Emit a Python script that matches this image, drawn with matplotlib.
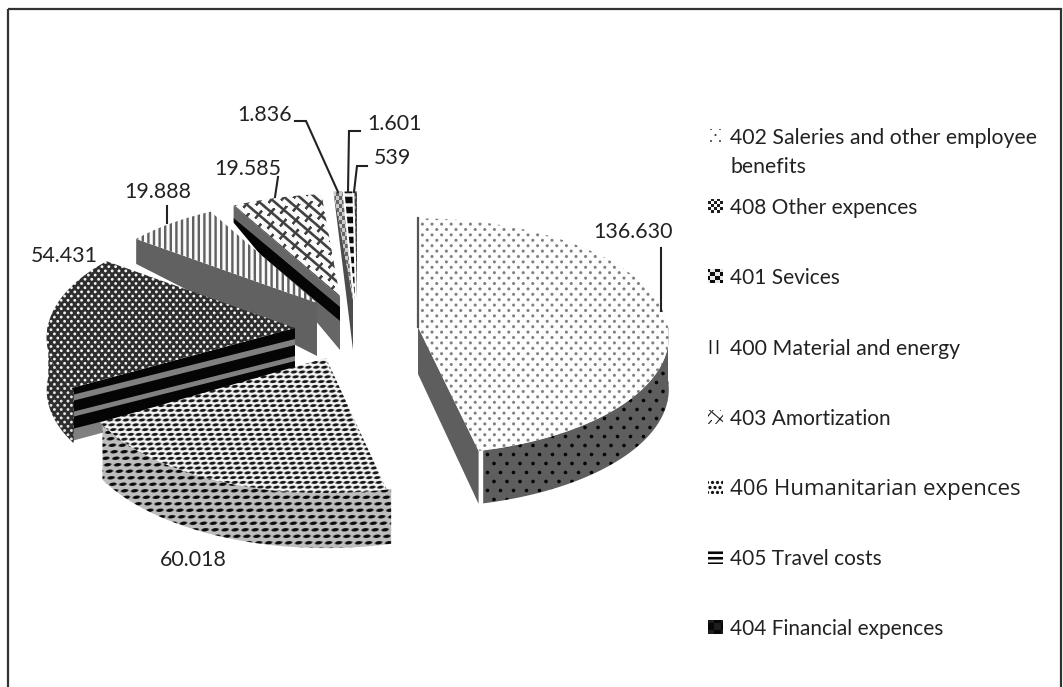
import numpy as np
import matplotlib
matplotlib.use('Agg')
import matplotlib.pyplot as plt
from matplotlib.path import Path
from matplotlib.patches import PathPatch, Rectangle

categories = ['402 Saleries and other employee\nbenefits', '408 Other expences', '401 Sevices',
              '400 Material and energy', '403 Amortization', '406 Humanitarian expences',
              '405 Travel costs', '404 Financial expences']
values = [136630, 60018, 54431, 19888, 19585, 1836, 1601, 539]

plt.rcParams['font.family'] = ['Lato', 'DejaVu Sans']
W, H = 1063, 687
X, Y = np.meshgrid(np.arange(W) + 0.5, np.arange(H) + 0.5)


def blend(mask, bg, fg):
    return bg + (fg - bg) * np.clip(mask, 0, 1)


def dots(sx, sy, rx, ry, bg, fg, tilt=0.0):
    row = np.floor(Y / sy)
    xs = X + tilt * Y + (row % 2) * sx / 2
    dx = (xs % sx) - sx / 2
    dy = (Y % sy) - sy / 2
    d = np.sqrt((dx / rx) ** 2 + (dy / ry) ** 2)
    return blend((1 - d) * min(rx, ry) + 0.5, bg, fg)


def vlines(period, width, bg, fg):
    d = np.abs((X % period) - period / 2)
    return blend(width / 2 - d + 0.5, bg, fg)


def hbars(period, width, bg, fg):
    d = np.abs((Y % period) - period / 2)
    return blend(width / 2 - d + 0.5, bg, fg)


def stripes(slope, x0, y0, bands):
    # bands are (offset below the edge, gray) pairs
    s = Y - y0 - slope * (X - x0)
    out = np.full(X.shape, bands[0][1], dtype=float)
    for off, g in bands[1:]:
        out = blend(s - off + 0.5, out, g)
    return out


def bricks(step, length, width, bg, fg):
    c, s = 0.76, 0.65
    u = X * c + Y * s
    v = -X * s + Y * c
    row = np.floor(v / step)
    du = np.abs(((u + (row % 2) * length / 2) % length) - length / 2)
    dv = np.abs((v % step) - step / 2)
    return blend(np.maximum(width / 2 - du, width / 2 - dv) + 0.5, bg, fg)


def checks(px, py, bg, fg):
    m = ((np.floor(X / px) + np.floor(Y / py)) % 2)
    return bg + (fg - bg) * m


fig = plt.figure(figsize=(W / 100, H / 100), dpi=100)
ax = fig.add_axes([0, 0, 1, 1])
zorder = [1]


def fill(points, texture):
    path = Path(np.vstack([points, points[:1]]), closed=True)
    patch = PathPatch(path, transform=ax.transData, fc='none', ec='none')
    ax.add_patch(patch)
    im = ax.imshow(texture, cmap='gray', vmin=0, vmax=1, extent=(0, W, H, 0),
                   aspect='auto', interpolation='bilinear', zorder=zorder[0])
    im.set_clip_path(patch)
    zorder[0] += 1


RX, RY, PERSP = 250, 118, 0.08


def rim(t, apex, k, ky):
    t = np.radians(t)
    s = (1 - PERSP * np.cos(t)) * k
    return np.column_stack([apex[0] + RX * np.sin(t) * s, apex[1] - RY * np.cos(t) * s * ky])


angles = np.cumsum([0] + values) / sum(values) * 360

# apex position, radius factors, rim depth, apex depth for each slice
apex = [(418, 327), (326, 358), (295, 328), (317, 303), (340, 297), (353, 300), (355, 300), (357, 300)]
radius = [1.0, 1.0, 0.99, 0.95, 0.95, 1.0, 1.0, 1.0]
radius_y = [1.0, 1.06, 1.0, 1.0, 1.0, 1.0, 1.0, 1.0]
rim_depth = [53, 55, 53, 25, 17, 0, 0, 0]
apex_depth = [47, 55, 53, 53, 53, 50, 50, 50]
# which radial wall shows: 0 start edge, 1 end edge, None no wall
wall_edge = [1, None, 0, 0, 0, 0, None, None]
# part of the outer wall that shows, in degrees
outer_part = [(90, 166), (166, 239.2), (239.2, 272), None, None, None, None, None]

w5_slope = (297 - 205) / (340 - 230)
w3_slope = (387 - 330) / (68 - 295)
tops = [dots(9.6, 5.4, 1.5, 1.5, 0.99, 0.5),
        dots(8, 4.8, 3.0, 1.5, 0.95, 0.1, tilt=0.5),
        dots(6.8, 4.2, 1.4, 1.4, 0.18, 0.95),
        vlines(5.6, 2.4, 0.98, 0.38),
        bricks(10, 16, 2.6, 0.98, 0.25),
        checks(3, 4, 0.4, 0.8),
        hbars(10, 3.5, 0.05, 0.95),
        dots(5, 5, 1.2, 1.2, 0.25, 0.55)]
walls = [np.full(X.shape, 0.37),
         np.full(X.shape, 0.6),
         stripes(w3_slope, 295, 328, [(0, 0.02), (11, 0.5), (17, 0.02), (28, 0.5), (33, 0.02), (45, 0.5)]),
         np.full(X.shape, 0.38),
         stripes(w5_slope, 340, 297, [(0, 0.4), (10, 0.02), (24, 0.4)]),
         np.full(X.shape, 0.3),
         np.full(X.shape, 0.3),
         np.full(X.shape, 0.3)]
sides = [dots(13, 9, 1.8, 1.8, 0.37, 0.02),
         dots(10, 6.5, 3.5, 1.7, 0.74, 0.05, tilt=0.5),
         dots(6.8, 4.2, 1.4, 1.4, 0.18, 0.9),
         None, None, None, None, None]

# far slices first so the near ones cover them
for i in [7, 6, 5, 4, 3, 2, 1, 0]:
    a = np.array(apex[i], dtype=float)
    t0, t1 = angles[i], angles[i + 1]
    if wall_edge[i] is not None:
        t = [t0, t1][wall_edge[i]]
        p = rim(t, a, radius[i], radius_y[i])[0]
        fill(np.array([a, p, p + [0, rim_depth[i]], a + [0, apex_depth[i]]]), walls[i])
    if outer_part[i] is not None:
        arc = rim(np.linspace(outer_part[i][0], outer_part[i][1], 80), a, radius[i], radius_y[i])
        fill(np.vstack([arc, (arc + [0, rim_depth[i]])[::-1]]), sides[i])
    arc = rim(np.linspace(t0, t1, 120), a, radius[i], radius_y[i])
    fill(np.vstack([a, arc]), tops[i])
    if i == 0:
        ax.plot([a[0], arc[0, 0]], [a[1], arc[0, 1]], color='#555555', lw=1.6, zorder=zorder[0])
        zorder[0] += 1

# data labels and leader lines
label_xy = [(633, 232), (193, 560), (64, 256), (158, 192), (248, 169), (265, 115), (395, 124), (393, 158)]
leaders = [[(661, 248), (661, 311)], None, None, [(167, 206), (167, 223)], [(278, 177), (275, 197)],
           [(295, 121), (306, 121), (338, 192)], [(360, 131), (349, 131), (348, 192)],
           [(367, 166), (357, 166), (354, 192)]]
for v, xy, line in zip(values, label_xy, leaders):
    ax.text(xy[0], xy[1], f'{v:,}'.replace(',', '.'), ha='center', va='center', fontsize=15.4, color='#222222', zorder=60)
    if line:
        ax.plot(*zip(*line), color='#222222', lw=1.5, zorder=60, solid_joinstyle='miter')

# legend, the 406 line is set wider than the others in the reference
legend_y = [136, 206, 276, 347, 417, 487, 557, 627]
legend_font = ['Lato', 'Lato', 'Lato', 'Lato', 'Lato', 'Open Sans', 'Lato', 'Lato']
legend_size = [15.3, 15.0, 15.0, 15.3, 15.0, 16.0, 15.0, 15.0]
key_textures = [dots(9, 6, 1, 1, 1.0, 0.25),
                checks(3, 3, 0.98, 0.12),
                checks(5, 4, 0.05, 0.9),
                vlines(7, 1.6, 1.0, 0.1),
                bricks(13, 11, 1.1, 1.0, 0.1),
                dots(5, 5, 1.6, 1.6, 0.98, 0.08),
                hbars(5.5, 2.6, 1.0, 0.02),
                checks(7, 7, 0.03, 0.12)]
for name, y, tex, fam, size in zip(categories, legend_y, key_textures, legend_font, legend_size):
    fill(np.array([[708, y - 7], [723, y - 7], [723, y + 7], [708, y + 7]]), tex)
    ax.text(730, y - 8, name, ha='left', va='top', family=fam, fontsize=size, color='#222222', linespacing=1.57, zorder=60)

ax.add_patch(Rectangle((8, 9), 1053, 700, fc='none', ec='#333333', lw=1.6, zorder=70))
ax.set_xlim(0, W)
ax.set_ylim(H, 0)
ax.axis('off')
fig.savefig('out.png', dpi=100, facecolor='white')
